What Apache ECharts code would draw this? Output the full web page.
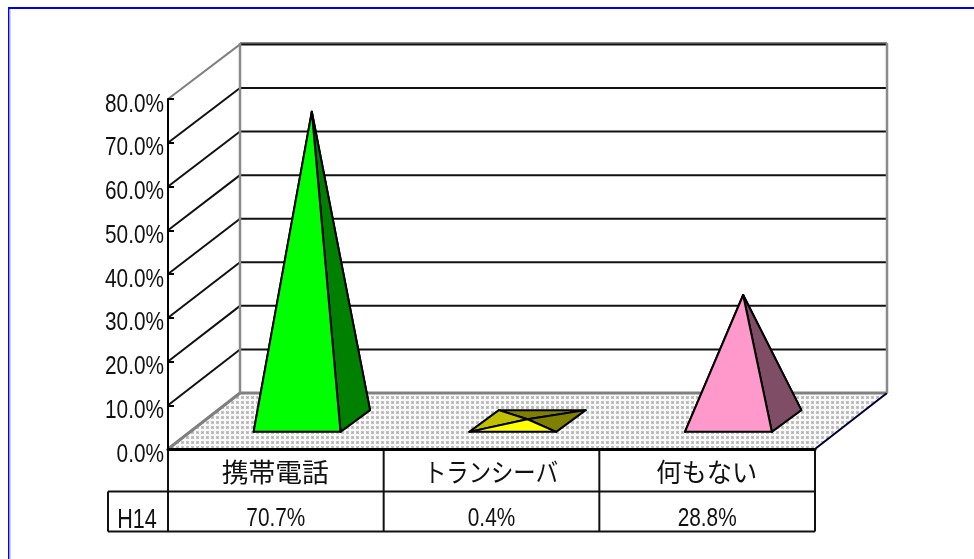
<!DOCTYPE html>
<html><head><meta charset="utf-8">
<style>html,body{margin:0;padding:0;background:#fff}#c{width:974px;height:559px}</style>
<script src="https://cdn.jsdelivr.net/npm/echarts@6/dist/echarts.min.js"></script>
</head><body><div id="c"></div>
<script>
const categories = ['携帯電話', 'トランシーバ', '何もない'];
const values = [70.7, 0.4, 28.8];
const tableLabels = ['70.7%', '0.4%', '28.8%'];
const rowLabel = 'H14';
const yTicks = [0, 10, 20, 30, 40, 50, 60, 70, 80];
const faceColors = [
  { front: '#00ff00', side: '#008000', left: '#00c000', back: '#008000' },
  { front: '#ffff00', side: '#808000', left: '#c0c000', back: '#808000' },
  { front: '#ff99cc', side: '#804d66', left: '#c07399', back: '#804d66' }
];
const categoryWidthScale = [1.03, 0.86, 0.97];

const DX = 72, DY = -56;            // depth of the 3D box
const latin = '"Liberation Sans",Arial,sans-serif';
const cjk = '"Noto Sans CJK JP",sans-serif';
const INK = '#111';
const NARROW = 0.8;

function floorPattern() {
  const c = document.createElement('canvas');
  c.width = 5; c.height = 5;
  const g = c.getContext('2d');
  g.fillStyle = '#f8f8f8'; g.fillRect(0, 0, 5, 5);
  g.fillStyle = '#c4c4c4'; g.fillRect(1, 1, 3, 3);
  g.fillStyle = '#a8a8a8'; g.fillRect(2, 2, 1, 1);
  return c;
}
const pattern = { image: floorPattern(), repeat: 'repeat' };

function edges(api) {
  const half = api.size([1, 0])[0] / 2;
  const l = api.coord([0, 0])[0] - half;
  const r = api.coord([categories.length - 1, 0])[0] + half;
  return { l, r };
}
const line = (x1, y1, x2, y2, stroke, lineWidth) => ({
  type: 'line', shape: { x1, y1, x2, y2 }, style: { stroke, lineWidth, fill: null }
});
const label = (text, x, y, font, align, scaleX) => ({
  type: 'text', x, y, scaleX: scaleX, scaleY: 1,
  style: { text, fill: INK, font, textAlign: align, textVerticalAlign: 'middle' }
});

function renderWallLine(params, api) {
  const v = api.value(0), e = edges(api), y = api.coord([0, v])[1];
  const edgeTick = v === 0 || v === 80;
  const wy = y + DY + 1.4 * v / 80;
  const kids = [];
  if (v !== 0) {
    kids.push(line(e.l + DX, wy, e.r + DX, wy, INK, 2));
  }
  if (v === 80) kids.unshift(line(e.l + DX, wy - 1.5, e.r + DX, wy - 1.5, '#888', 2));
  kids.push(line(e.l, y, e.l + DX, wy, edgeTick ? '#808080' : INK, 2));
  kids.push(label(v.toFixed(1) + '%', e.l - 4, y + 5.5, '26px ' + latin, 'right', NARROW));
  return { type: 'group', children: kids };
}

function renderFloor(params, api) {
  const e = edges(api), y0 = api.coord([0, 0])[1], yt = api.coord([0, 80])[1];
  return { type: 'group', children: [
    { type: 'polygon',
      shape: { points: [[e.l, y0], [e.r, y0], [e.r + DX, y0 + DY], [e.l + DX, y0 + DY]] },
      style: { fill: pattern, stroke: null } },
    line(e.l + DX, y0 + DY, e.r + DX, y0 + DY, '#808080', 3),
    line(e.l, y0, e.l + DX, y0 + DY, '#808080', 3),
    line(e.r, y0, e.r + DX, y0 + DY, '#000033', 2),
    line(e.l + DX, yt + DY, e.l + DX, y0 + DY, '#8a8a8a', 2.5),
    line(e.r + DX, yt + DY, e.r + DX, y0 + DY, '#8a8a8a', 2.5)
  ] };
}

function renderPyramid(params, api) {
  const i = api.value(0), v = api.value(1);
  const c = api.coord([i, 0]);
  const half = api.size([1, 0])[0] * 0.2015;
  const h = api.coord([i, 0])[1] - api.coord([i, v])[1];
  const cx = c[0] + 0.5 * DX, cy = c[1] + 0.5 * DY;      // centre of the base
  const bx = 0.205 * DX, by = 0.194 * DY;                // half base depth
  const apex = [cx, cy - h];
  const fl = [cx - bx - half, cy - by], fr = [cx - bx + half, cy - by];
  const bl = [cx + bx - half, cy + by], br = [cx + bx + half, cy + by];
  const col = faceColors[i];
  const face = (points, fill) => ({
    type: 'polygon', shape: { points },
    style: { fill, stroke: '#000', lineWidth: 2, lineJoin: 'round' }
  });
  return { type: 'group', children: [
    face([bl, br, apex], col.back),
    face([fl, bl, apex], col.left),
    face([fr, br, apex], col.side),
    face([fl, fr, apex], col.front)
  ] };
}

function renderTable(params, api) {
  const i = api.value(0), c = api.coord([i, 0]);
  const half = api.size([1, 0])[0] / 2, e = edges(api);
  const y0 = c[1], row1 = y0 + 42.5, row2 = y0 + 82.5;
  const kids = [
    line(c[0] + half, y0, c[0] + half, row2, INK, 2),
    label(categories[i], c[0] - 0.5, y0 + 23, '26px ' + cjk, 'center', categoryWidthScale[i]),
    label(tableLabels[i], c[0], row2 - 12.5, '26px ' + latin, 'center', NARROW)
  ];
  if (i === 0) {
    kids.push(
      line(e.l, y0, e.l, row2, INK, 2),
      line(e.l - 60, row1, e.r, row1, INK, 2),
      line(e.l - 60, row2, e.r, row2, INK, 2),
      line(e.l - 60, row1, e.l - 60, row2, INK, 2),
      label(rowLabel, e.l - 31, row2 - 11, '27px ' + latin, 'center', NARROW)
    );
  }
  return { type: 'group', children: kids };
}

const chart = echarts.init(document.getElementById('c'), null, { renderer: 'canvas' });
chart.setOption({
  animation: false,
  backgroundColor: '#fff',
  grid: { left: 168, top: 99, width: 647, height: 350 },
  graphic: [
    { type: 'rect', shape: { x: 8, y: 7, width: 966, height: 2 }, style: { fill: '#0000e6' }, silent: true },
    { type: 'rect', shape: { x: 8, y: 7, width: 1.5, height: 552 }, style: { fill: '#0000ff' }, silent: true },
    { type: 'rect', shape: { x: 9.5, y: 9, width: 1, height: 550 }, style: { fill: '#aaaaff' }, silent: true }
  ],
  xAxis: {
    type: 'category', data: categories,
    axisLine: { lineStyle: { color: '#000', width: 3 } },
    axisTick: { show: false },
    axisLabel: { show: false },
    z: 6
  },
  yAxis: {
    type: 'value', min: 0, max: 80, interval: 10,
    axisLine: { show: true, lineStyle: { color: '#000', width: 2 } },
    axisTick: { show: true, inside: true, length: 6, lineStyle: { color: '#000', width: 2 } },
    splitLine: { show: false },
    axisLabel: { show: false },
    z: 6
  },
  series: [
    { type: 'custom', name: 'wall', coordinateSystem: 'cartesian2d', silent: true, z: 1,
      data: yTicks.map(v => [v]), encode: { y: 0 }, renderItem: renderWallLine },
    { type: 'custom', name: 'floor', coordinateSystem: 'cartesian2d', silent: true, z: 2,
      data: [[0]], renderItem: renderFloor },
    { type: 'custom', name: 'pyramids', coordinateSystem: 'cartesian2d', silent: true, z: 3,
      data: values.map((v, i) => [i, v]), encode: { x: 0, y: 1 }, renderItem: renderPyramid },
    { type: 'custom', name: 'table', coordinateSystem: 'cartesian2d', silent: true, z: 5,
      data: categories.map((c, i) => [i]), encode: { x: 0 }, renderItem: renderTable }
  ]
});
</script></body></html>
